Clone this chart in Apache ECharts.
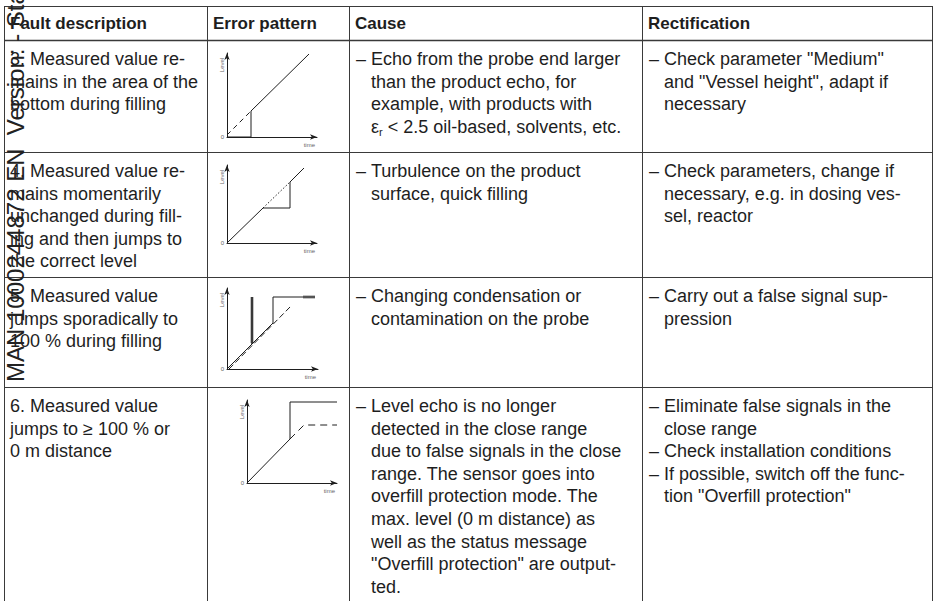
<!DOCTYPE html>
<html>
<head>
<meta charset="utf-8">
<script src="https://cdn.jsdelivr.net/npm/echarts@6/dist/echarts.min.js"></script>
<style>
  html, body { margin: 0; padding: 0; background: #fff; }
  #chart { width: 934px; height: 601px; }
</style>
</head>
<body>
<div id="chart"></div>
<script>
// table text
const headers = ['Fault description', 'Error pattern', 'Cause', 'Rectification']

const faultText = [
  ['3. Measured value re-', 'mains in the area of the', 'bottom during filling'],
  ['4. Measured value re-', 'mains momentarily', 'unchanged during fill-', 'ing and then jumps to', 'the correct level'],
  ['5. Measured value', 'jumps sporadically to', '100 % during filling'],
  ['6. Measured value', 'jumps to ≥ 100 % or', '0 m distance']
]
const causeText = [
  ['– Echo from the probe end larger', 'than the product echo, for', 'example, with products with', 'ε{sub|r} < 2.5 oil-based, solvents, etc.'],
  ['– Turbulence on the product', 'surface, quick filling'],
  ['– Changing condensation or', 'contamination on the probe'],
  ['– Level echo is no longer', 'detected in the close range', 'due to false signals in the close', 'range. The sensor goes into',
   'overfill protection mode. The', 'max. level (0 m distance) as', 'well as the status message',
   '"Overfill protection" are output-', 'ted.']
]
const rectText = [
  ['– Check parameter "Medium"', 'and "Vessel height", adapt if', 'necessary'],
  ['– Check parameters, change if', 'necessary, e.g. in dosing ves-', 'sel, reactor'],
  ['– Carry out a false signal sup-', 'pression'],
  ['– Eliminate false signals in the', 'close range', '– Check installation conditions',
   '– If possible, switch off the func-', 'tion "Overfill protection"']
]
const sideNote = 'MAN 1000244872 EN  Version: - Stat'

// mini chart values (x: time, y: level)
const c1Measured = [[0, 0], [2.4, 0], [2.4, 2.6], [8.2, 8.3]]
const c1Actual = [[0, 0.2], [2.3, 2.5]]
const c2Measured = [[0, 0], [3.6, 3.5], [6.3, 3.5], [6.3, 6.1], [7.7, 7.5]]
const c2Actual = [[3.6, 3.5], [6.3, 6.1]]
const c3Measured = [[0, 0], [2.5, 2.5], [2.5, 7.2], [2.5, 2.5], [4.6, 4.6], [4.6, 7.2], [8.8, 7.2]]
const c3Actual = [[0.2, 0], [6.4, 6.3]]
const c3Spike = [[2.5, 2.6], [2.5, 7.2]]
const c3End = [[7.6, 7.2], [8.8, 7.2]]
const c4Measured = [[0, 0], [4.3, 4.4], [4.3, 8.1], [9.0, 8.1]]
const c4Actual = [[4.3, 4.4], [5.7, 5.8], [9.0, 5.8]]
const xMax = [9, 9, 9.1, 9]
const yMax = [8.4, 7.8, 8.1, 8.3]

// layout
const colLines = [4, 207, 349, 642, 932]
const rowLines = [6, 40, 152, 277, 387]
const boxes = [
  { left: 227, top: 53, width: 90, height: 84 },
  { left: 227, top: 165, width: 90, height: 78 },
  { left: 227, top: 288, width: 91, height: 81 },
  { left: 247, top: 400, width: 90, height: 83 }
]

const FONT = "'Liberation Sans', Arial, sans-serif"
const ink = '#1e1e1e'
const lineColor = '#3a3a3a'
const lineH = 22.6

const chart = echarts.init(document.getElementById('chart'), null, { renderer: 'svg' })

const graphic = []
// grid lines of the table
rowLines.forEach((y, i) => {
  graphic.push({
    type: 'line', shape: { x1: colLines[0], y1: y + 0.5, x2: colLines[4], y2: y + 0.5 },
    style: { stroke: lineColor, lineWidth: i === 1 ? 1.5 : 1 }
  })
})
colLines.forEach(x => {
  graphic.push({
    type: 'line', shape: { x1: x + 0.5, y1: rowLines[0], x2: x + 0.5, y2: 601 },
    style: { stroke: lineColor, lineWidth: 1 }
  })
})

headers.forEach((h, i) => {
  graphic.push({
    type: 'text', z: 5,
    style: {
      text: h, x: colLines[i] + 6, y: 23, fill: ink,
      font: 'bold 17px ' + FONT, textVerticalAlign: 'middle'
    }
  })
})

function addText(str, x, y) {
  graphic.push({
    type: 'text', z: 5,
    style: {
      text: str, x: x, y: y, fill: ink, font: '18px ' + FONT, textVerticalAlign: 'middle',
      rich: { sub: { fontSize: 11, fontFamily: FONT, fill: ink, padding: [10, 0, 0, 0] } }
    }
  })
}

function addBulletCell(lines, colX, top) {
  lines.forEach((ln, k) => {
    const y = top + k * lineH
    if (ln.startsWith('– ')) {
      addText('–', colX + 7, y)
      addText(ln.slice(2), colX + 22, y)
    } else {
      addText(ln, colX + 22, y)
    }
  })
}

for (let r = 0; r < 4; r++) {
  const top = rowLines[r + 1] + 19
  faultText[r].forEach((ln, k) => addText(ln, colLines[0] + 6, top + k * lineH))
  addBulletCell(causeText[r], colLines[2], top)
  addBulletCell(rectText[r], colLines[3], top)
}

// rotated margin note, runs off the top edge like in the scan
graphic.push({
  type: 'text', z: 6, x: 15, y: 382, rotation: Math.PI / 2,
  style: { text: sideNote, fill: '#222', font: '24px ' + FONT, textVerticalAlign: 'middle' }
})

const grids = boxes.map(b => Object.assign({ containLabel: false, outerBoundsMode: 'none' }, b))

const axisLine = {
  show: true, symbol: ['none', 'arrow'], symbolSize: [4, 7],
  lineStyle: { color: ink, width: 1 }
}
const tiny = { fontSize: 6, color: '#666', fontFamily: FONT }

const xAxes = boxes.map((b, i) => ({
  type: 'value', gridIndex: i, min: 0, max: xMax[i], interval: xMax[i],
  axisLine: axisLine, axisTick: { show: false }, splitLine: { show: false },
  axisLabel: { show: false },
  name: 'time', nameLocation: 'end', nameGap: -2,
  nameTextStyle: Object.assign({ align: 'right', verticalAlign: 'top', padding: [5, 0, 0, 0] }, tiny)
}))
const yAxes = boxes.map((b, i) => ({
  type: 'value', gridIndex: i, min: 0, max: yMax[i], interval: yMax[i],
  axisLine: axisLine, axisTick: { show: false }, splitLine: { show: false },
  axisLabel: Object.assign({ margin: 3, formatter: v => (v === 0 ? '0' : '') }, tiny),
  name: 'Level', nameLocation: 'end', nameGap: -12, nameRotate: 90,
  nameTextStyle: Object.assign({ align: 'center', verticalAlign: 'bottom', padding: [0, 0, 2, 0] }, tiny)
}))

function lineSeries(idx, data, type, color, width) {
  return {
    type: 'line', xAxisIndex: idx, yAxisIndex: idx, data: data,
    symbol: 'none', silent: true, animation: false,
    lineStyle: { color: color || ink, width: width || 1, type: type || 'solid' }
  }
}

const series = [
  lineSeries(0, c1Measured),
  lineSeries(0, c1Actual, [5, 4]),
  lineSeries(1, c2Measured),
  lineSeries(1, c2Actual, [1.5, 2]),
  lineSeries(2, c3Spike, 'solid', '#8a8a8a', 3),
  lineSeries(2, c3End, 'solid', '#8a8a8a', 3),
  lineSeries(2, c3Measured),
  lineSeries(2, c3Actual, [6, 3]),
  lineSeries(3, c4Measured),
  lineSeries(3, c4Actual, [7, 5])
]

chart.setOption({
  animation: false,
  backgroundColor: '#fff',
  grid: grids,
  xAxis: xAxes,
  yAxis: yAxes,
  series: series,
  graphic: { elements: graphic }
})

window.addEventListener('resize', () => chart.resize())
</script>
</body>
</html>
